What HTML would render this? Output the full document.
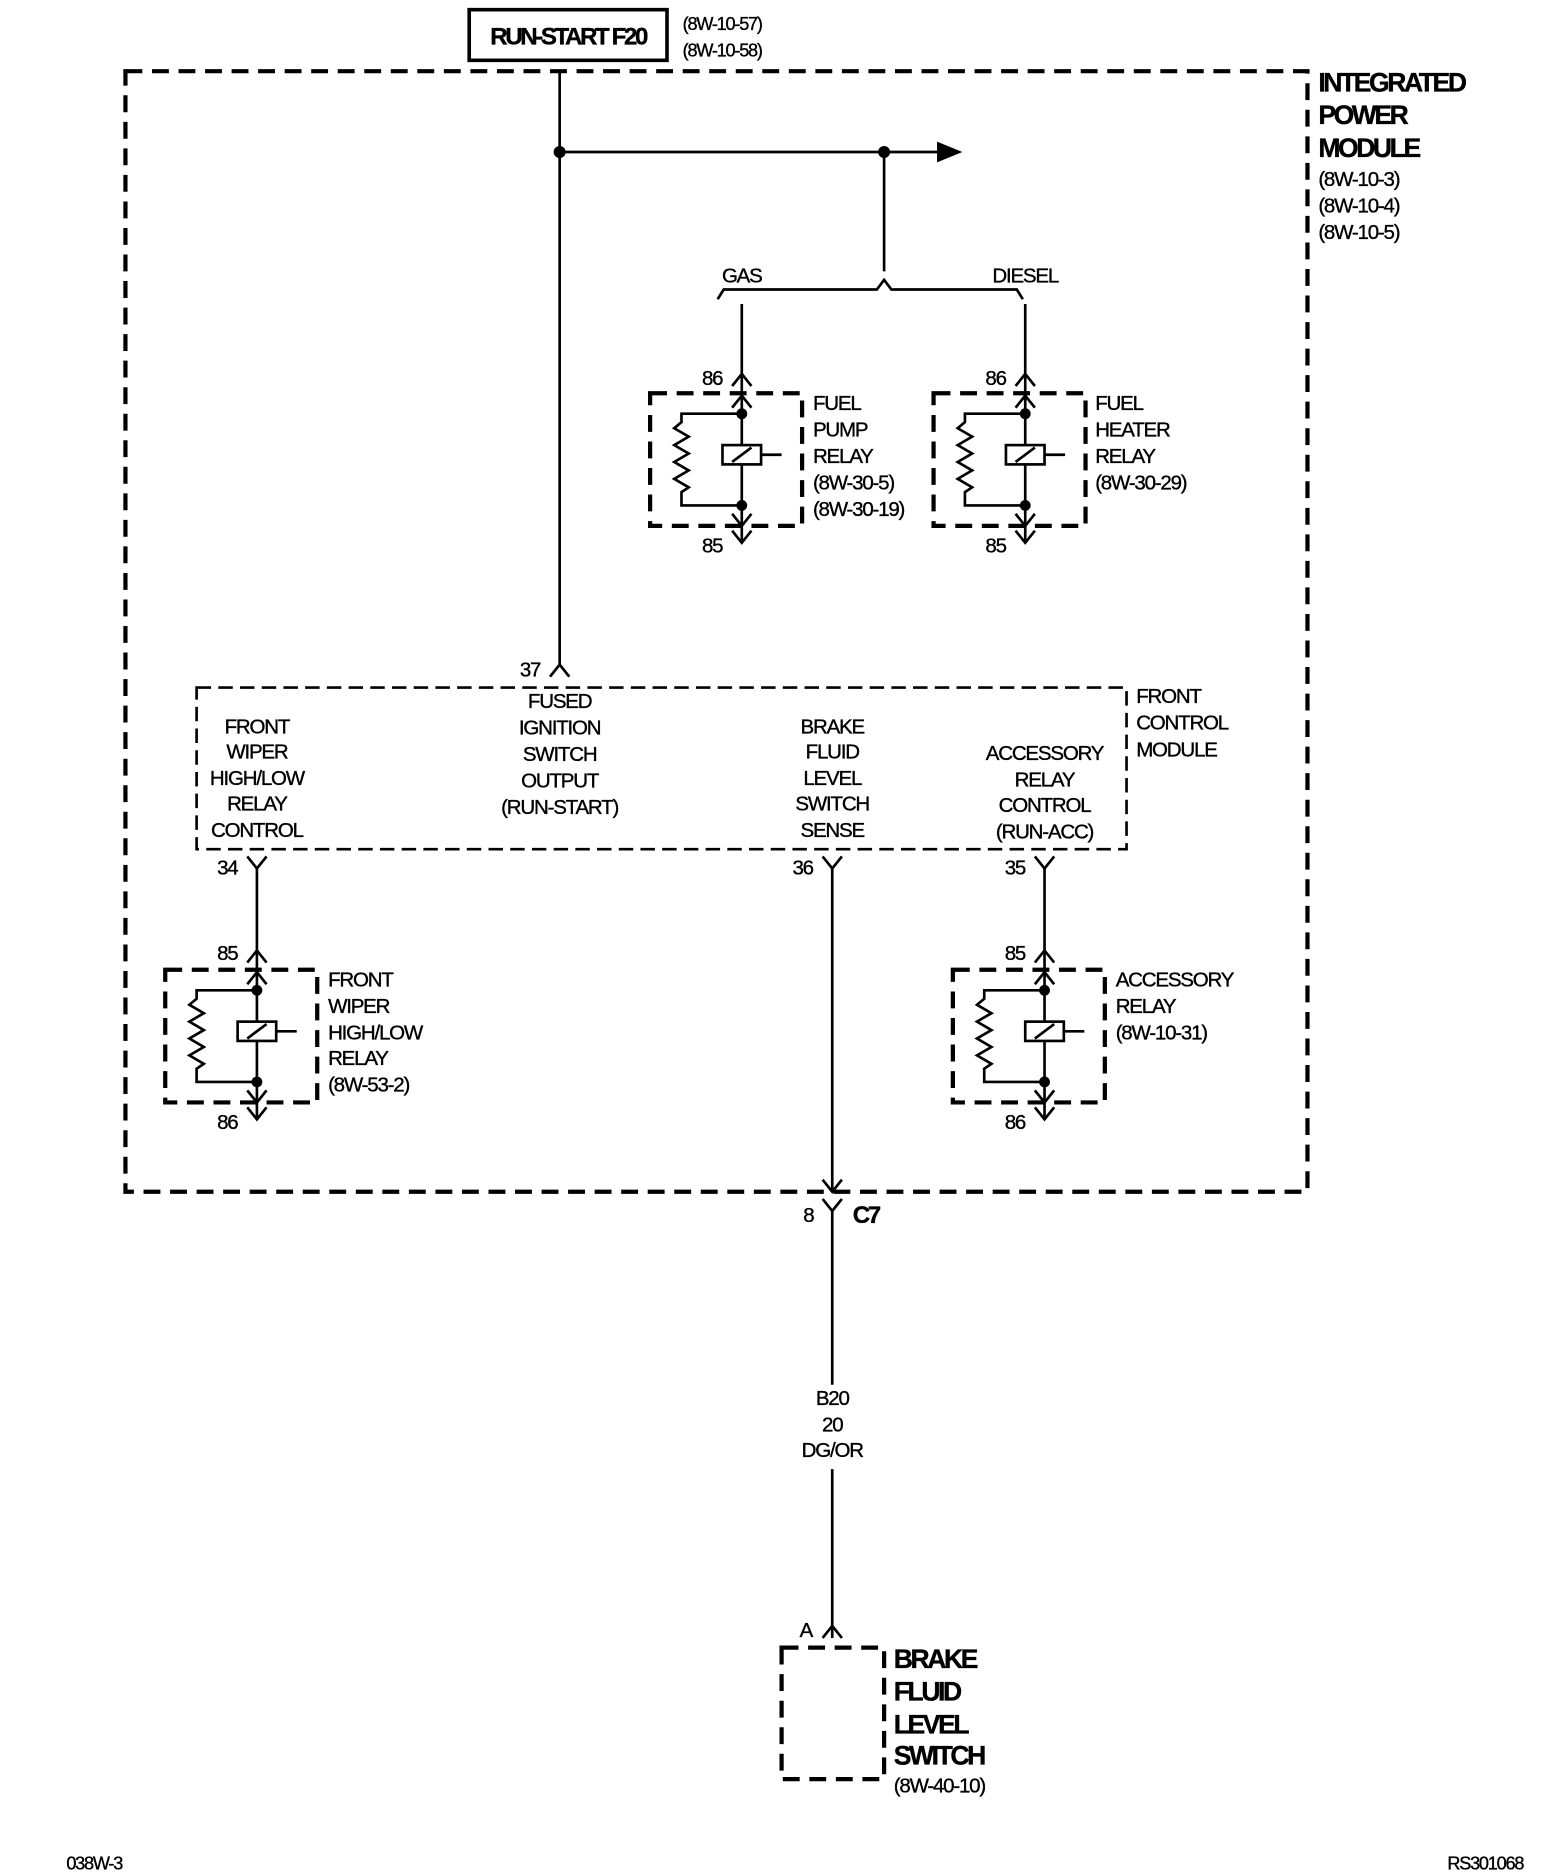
<!DOCTYPE html>
<html><head><meta charset="utf-8"><style>
html,body{margin:0;padding:0;background:#fff}
svg{display:block}
text{font-family:"Liberation Sans",sans-serif;fill:#000;letter-spacing:-1px;stroke:#000;stroke-width:0.3px}
.s{font-size:17px}
.b{font-size:22px;font-weight:bold;letter-spacing:-2px}
.m{text-anchor:middle}
</style></head><body>
<svg width="1568" height="1872" viewBox="0 0 1300 1552" xmlns="http://www.w3.org/2000/svg">
<defs>
<g id="relay" fill="none" stroke="#000" stroke-width="2.2">
<rect x="0" y="0" width="126" height="110" stroke-width="3.5" stroke-dasharray="14,8"/>
<line x1="76" y1="-16" x2="76" y2="122"/>
<polyline points="68,-6 76,-16 84,-6"/>
<polyline points="68,12 76,2 84,12"/>
<polyline points="68,100 76,110 84,100"/>
<polyline points="68,114 76,124 84,114"/>
<polyline points="76,17 26,17 26,24 20,29 32,36 20,43 32,50 20,57 32,64 20,71 32,78 26,82 26,93 76,93"/>
<rect x="60" y="43" width="32" height="16" fill="#fff"/>
<line x1="68" y1="57" x2="84" y2="45"/>
<line x1="92" y1="51" x2="109" y2="51"/>
<circle cx="76" cy="17" r="4.5" fill="#000" stroke="none"/>
<circle cx="76" cy="93" r="4.5" fill="#000" stroke="none"/>
</g>
</defs>
<g fill="none" stroke="#000" stroke-width="2.2">
<rect x="104" y="59" width="980" height="929" stroke-width="3.5" stroke-dasharray="14,8"/>
<rect x="389" y="8" width="164" height="42" stroke-width="3"/>
<line x1="464" y1="59" x2="464" y2="553"/>
<polyline points="456,561 464,551 472,561"/>
<line x1="464" y1="126" x2="782" y2="126"/>
<polygon points="778,119 795,126 778,133" fill="#000"/>
<line x1="733" y1="126" x2="733" y2="225"/>
<polyline points="595,248 600,240 727,240 733,232 739,240 843,240 848,248"/>
<line x1="615" y1="252" x2="615" y2="310"/>
<line x1="850" y1="252" x2="850" y2="310"/>
<rect x="163" y="570" width="771" height="134" stroke-dasharray="12,6"/>
<polyline points="205,710 213,720 221,710"/><line x1="213" y1="720" x2="213" y2="790"/>
<polyline points="682,710 690,720 698,710"/><line x1="690" y1="720" x2="690" y2="988"/>
<polyline points="858,710 866,720 874,710"/><line x1="866" y1="720" x2="866" y2="790"/>
<polyline points="682,978 690,988 698,978"/>
<polyline points="682,994 690,1004 698,994"/>
<line x1="690" y1="1004" x2="690" y2="1148"/>
<line x1="690" y1="1218" x2="690" y2="1358"/>
<polyline points="682,1358 690,1348 698,1358"/>
<rect x="648" y="1366" width="85" height="109" stroke-width="3.5" stroke-dasharray="14,8"/>
</g>
<circle cx="464" cy="126" r="5" fill="#000"/>
<circle cx="733" cy="126" r="5" fill="#000"/>
<use href="#relay" x="539" y="326"/>
<use href="#relay" x="774" y="326"/>
<use href="#relay" x="137" y="804"/>
<use href="#relay" x="790" y="804"/>
<text class="b m" x="471" y="37" style="font-size:20px">RUN-START F20</text>
<text class="s" x="566" y="25" style="font-size:15px">(8W-10-57)</text>
<text class="s" x="566" y="47" style="font-size:15px">(8W-10-58)</text>
<text class="b" x="1093" y="76">INTEGRATED</text>
<text class="b" x="1093" y="103">POWER</text>
<text class="b" x="1093" y="130">MODULE</text>
<text class="s" x="1093" y="154">(8W-10-3)</text>
<text class="s" x="1093" y="176">(8W-10-4)</text>
<text class="s" x="1093" y="198">(8W-10-5)</text>
<text class="s m" x="615" y="234">GAS</text>
<text class="s m" x="850" y="234">DIESEL</text>
<text class="s" x="582" y="319">86</text><text class="s" x="817" y="319">86</text>
<text class="s" x="582" y="458">85</text><text class="s" x="817" y="458">85</text>
<text class="s" x="674" y="340">FUEL</text><text class="s" x="674" y="362">PUMP</text><text class="s" x="674" y="384">RELAY</text><text class="s" x="674" y="406">(8W-30-5)</text><text class="s" x="674" y="428">(8W-30-19)</text>
<text class="s" x="908" y="340">FUEL</text><text class="s" x="908" y="362">HEATER</text><text class="s" x="908" y="384">RELAY</text><text class="s" x="908" y="406">(8W-30-29)</text>
<text class="s" x="431" y="561">37</text>
<text class="s" x="942" y="583">FRONT</text><text class="s" x="942" y="605">CONTROL</text><text class="s" x="942" y="627">MODULE</text>
<text class="s m" x="213" y="608">FRONT</text><text class="s m" x="213" y="629">WIPER</text><text class="s m" x="213" y="651">HIGH/LOW</text><text class="s m" x="213" y="672">RELAY</text><text class="s m" x="213" y="694">CONTROL</text>
<text class="s m" x="464" y="587">FUSED</text><text class="s m" x="464" y="609">IGNITION</text><text class="s m" x="464" y="631">SWITCH</text><text class="s m" x="464" y="653">OUTPUT</text><text class="s m" x="464" y="675">(RUN-START)</text>
<text class="s m" x="690" y="608">BRAKE</text><text class="s m" x="690" y="629">FLUID</text><text class="s m" x="690" y="651">LEVEL</text><text class="s m" x="690" y="672">SWITCH</text><text class="s m" x="690" y="694">SENSE</text>
<text class="s m" x="866" y="630">ACCESSORY</text><text class="s m" x="866" y="652">RELAY</text><text class="s m" x="866" y="673">CONTROL</text><text class="s m" x="866" y="695">(RUN-ACC)</text>
<text class="s" x="180" y="725">34</text><text class="s" x="657" y="725">36</text><text class="s" x="833" y="725">35</text>
<text class="s" x="180" y="796">85</text><text class="s" x="833" y="796">85</text>
<text class="s" x="180" y="936">86</text><text class="s" x="833" y="936">86</text>
<text class="s" x="272" y="818">FRONT</text><text class="s" x="272" y="840">WIPER</text><text class="s" x="272" y="862">HIGH/LOW</text><text class="s" x="272" y="883">RELAY</text><text class="s" x="272" y="905">(8W-53-2)</text>
<text class="s" x="925" y="818">ACCESSORY</text><text class="s" x="925" y="840">RELAY</text><text class="s" x="925" y="862">(8W-10-31)</text>
<text class="s" x="666" y="1013">8</text>
<text class="b" x="707" y="1014" style="font-size:20px">C7</text>
<text class="s m" x="690" y="1165">B20</text><text class="s m" x="690" y="1187">20</text><text class="s m" x="690" y="1208">DG/OR</text>
<text class="s" x="663" y="1357">A</text>
<text class="b" x="741" y="1383">BRAKE</text><text class="b" x="741" y="1410">FLUID</text><text class="b" x="741" y="1437">LEVEL</text><text class="b" x="741" y="1463">SWITCH</text>
<text class="s" x="741" y="1486">(8W-40-10)</text>
<text class="s" x="55" y="1550" style="font-size:15px">038W-3</text>
<text class="s" x="1200" y="1550" style="font-size:15px">RS301068</text>
</svg>
</body></html>
